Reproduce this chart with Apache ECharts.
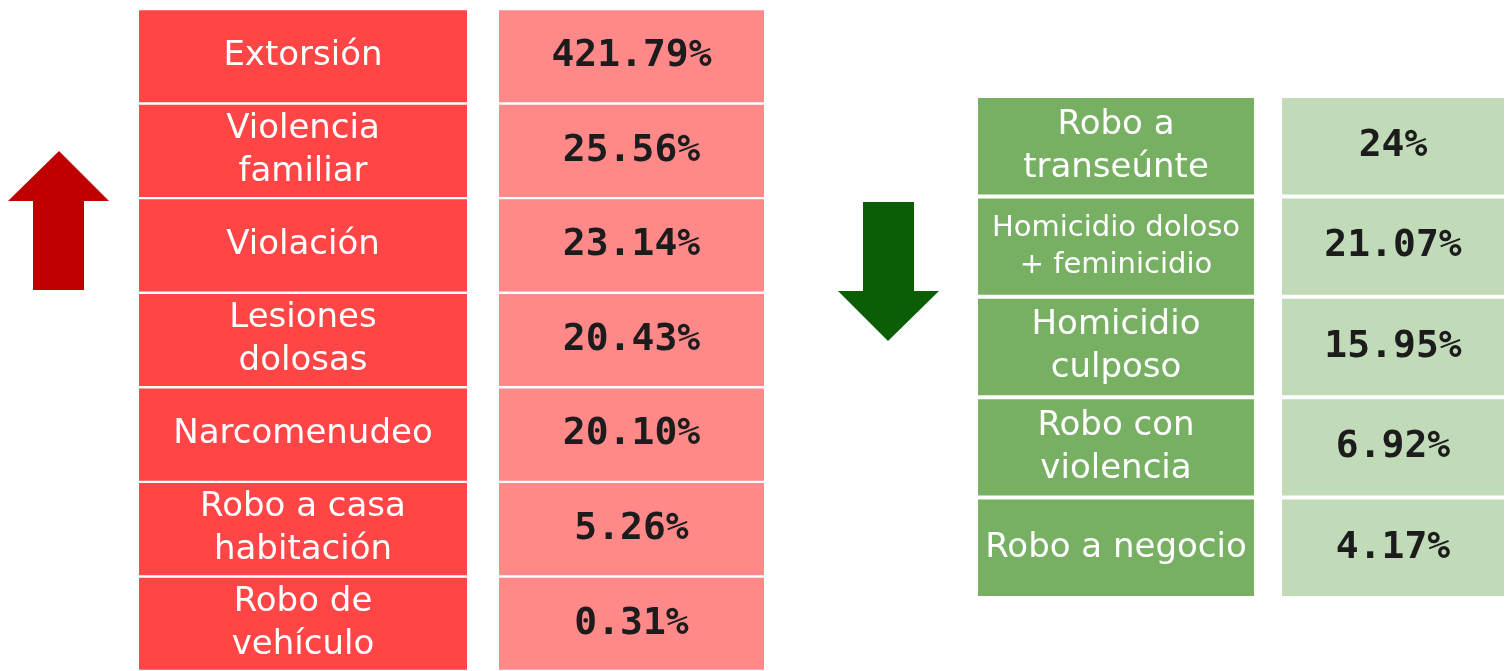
<!DOCTYPE html>
<html>
<head>
<meta charset="utf-8">
<script src="https://cdn.jsdelivr.net/npm/echarts@6/dist/echarts.min.js"></script>
<style>
  html, body { margin: 0; padding: 0; background: #fff; }
  #chart { width: 1509px; height: 671px; }
</style>
</head>
<body>
<div id="chart"></div>
<script>
// delitos que suben
const upCrimes = ['Extorsión', 'Violencia\nfamiliar', 'Violación', 'Lesiones\ndolosas',
  'Narcomenudeo', 'Robo a casa\nhabitación', 'Robo de\nvehículo']
const upValues = [421.79, 25.56, 23.14, 20.43, 20.10, 5.26, 0.31]

// delitos que bajan
const downCrimes = ['Robo a\ntranseúnte', 'Homicidio doloso\n+ feminicidio', 'Homicidio\nculposo',
  'Robo con\nviolencia', 'Robo a negocio']
const downValues = [24, 21.07, 15.95, 6.92, 4.17]

const fmtPct = v => (Number.isInteger(v) ? String(v) : v.toFixed(2)) + '%'

const labelFont = '"DejaVu Sans", sans-serif'
const valueFont = '"DejaVu Sans Mono", monospace'

const iChart = echarts.init(document.getElementById('chart'))

const grids = [
  { left: 139, top: 9, width: 328, height: 670 },   // rojo, nombres
  { left: 499, top: 9, width: 265, height: 670 },   // rojo, valores
  { left: 978, top: 96, width: 276, height: 502 },  // verde, nombres
  { left: 1282, top: 96, width: 222, height: 502 }  // verde, valores
]

const cats = [upCrimes, upCrimes, downCrimes, downCrimes]

const nameLabel = {
  show: true,
  position: 'inside',
  color: '#fff',
  fontFamily: labelFont,
  fontSize: 34,
  lineHeight: 43
}

const valueLabel = {
  show: true,
  position: 'inside',
  color: '#1c1c1c',
  fontFamily: valueFont,
  fontWeight: 'bold',
  fontSize: 38
}

const cellSeries = (idx, names, color, label, formatter, gap, isName) => ({
  type: 'bar',
  xAxisIndex: idx,
  yAxisIndex: idx,
  barCategoryGap: gap,
  silent: true,
  itemStyle: { color: color },
  label: Object.assign({}, label, { formatter: formatter }),
  data: names.map(n => {
    const item = { value: 1, name: n }
    // nombre largo en letra mas chica
    if (isName && n.length > 25) item.label = { fontSize: 29, lineHeight: 37 }
    return item
  })
})

const option = {
  animation: false,
  grid: grids,
  xAxis: grids.map((g, i) => ({ type: 'value', gridIndex: i, min: 0, max: 1, show: false })),
  yAxis: grids.map((g, i) => ({
    type: 'category', gridIndex: i, inverse: true, show: false, data: cats[i]
  })),
  series: [
    cellSeries(0, upCrimes, '#ff4545', nameLabel, p => upCrimes[p.dataIndex], '2.6%', true),
    cellSeries(1, upCrimes, '#ff8888', valueLabel, p => fmtPct(upValues[p.dataIndex]), '2.6%', false),
    cellSeries(2, downCrimes, '#78b063', nameLabel, p => downCrimes[p.dataIndex], '4%', true),
    cellSeries(3, downCrimes, '#c1dab7', valueLabel, p => fmtPct(downValues[p.dataIndex]), '4%', false)
  ],
  graphic: [
    {
      type: 'polygon',
      silent: true,
      shape: { points: [[59, 151], [109, 201], [84, 201], [84, 290], [33, 290], [33, 201], [8, 201]] },
      style: { fill: '#c00000' }
    },
    {
      type: 'polygon',
      silent: true,
      shape: { points: [[863, 202], [914, 202], [914, 291], [939, 291], [888, 341], [838, 291], [863, 291]] },
      style: { fill: '#0b5e06' }
    }
  ]
}

iChart.setOption(option)
window.addEventListener('resize', () => { iChart.resize() })
</script>
</body>
</html>
